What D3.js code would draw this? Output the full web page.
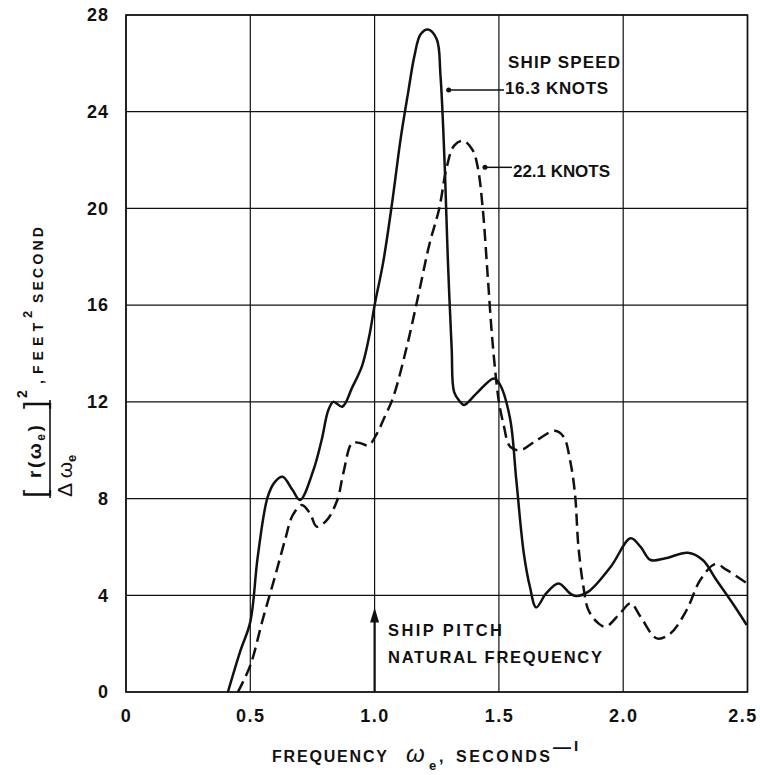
<!DOCTYPE html>
<html>
<head>
<meta charset="utf-8">
<script src="https://cdn.jsdelivr.net/npm/d3@7"></script>
<style>
  html, body { margin: 0; padding: 0; background: #fff; }
  svg { display: block; }
  text { font-family: "Liberation Sans", Arial, sans-serif; fill: #111; }
</style>
</head>
<body>
<svg id="chart" width="760" height="775"></svg>
<script>
// ---- data ----
const xTicks = [0, 0.5, 1.0, 1.5, 2.0, 2.5];
const xTickLabels = ["0", "0.5", "1.0", "1.5", "2.0", "2.5"];
const yTicks = [0, 4, 8, 12, 16, 20, 24, 28];
const yTickLabels = ["0", "4", "8", "12", "16", "20", "24", "28"];

// ship speed 16.3 knots (solid)
const freq163 = [0.41, 0.46, 0.50, 0.53, 0.57, 0.60, 0.63, 0.67, 0.70, 0.754, 0.787, 0.814, 0.834, 0.87, 0.91, 0.95, 0.98, 1.0, 1.035, 1.07, 1.105, 1.135, 1.16, 1.185, 1.215, 1.25, 1.265, 1.283, 1.295, 1.31, 1.32, 1.344, 1.36, 1.41, 1.48, 1.505, 1.545, 1.57, 1.60, 1.625, 1.65, 1.69, 1.74, 1.786, 1.81, 1.86, 1.95, 2.03, 2.07, 2.11, 2.17, 2.26, 2.32, 2.375, 2.44, 2.497];
const spec163 = [0, 1.7, 2.9, 5.6, 8.07, 8.7, 8.9, 8.35, 7.94, 9.18, 10.42, 11.66, 12.0, 11.8, 12.6, 13.5, 14.8, 16.0, 17.8, 20.2, 22.9, 24.8, 26.3, 27.2, 27.4, 27.0, 25.5, 21.5, 17.8, 14.2, 12.4, 12.0, 11.87, 12.35, 12.97, 12.7, 11.3, 8.77, 5.75, 4.34, 3.5, 4.08, 4.49, 4.08, 3.97, 4.15, 5.18, 6.36, 6.0, 5.46, 5.53, 5.76, 5.46, 4.63, 3.67, 2.77];

// ship speed 22.1 knots (dashed)
const freq221 = [0.45, 0.50, 0.55, 0.60, 0.64, 0.67, 0.707, 0.74, 0.767, 0.807, 0.85, 0.874, 0.91, 0.94, 0.975, 1.01, 1.035, 1.075, 1.13, 1.18, 1.22, 1.26, 1.29, 1.32, 1.357, 1.395, 1.415, 1.435, 1.455, 1.475, 1.50, 1.518, 1.545, 1.585, 1.65, 1.725, 1.76, 1.786, 1.806, 1.82, 1.84, 1.86, 1.90, 1.93, 1.987, 2.03, 2.07, 2.135, 2.19, 2.255, 2.31, 2.37, 2.416, 2.497];
const spec221 = [0, 1.1, 3.0, 4.8, 6.3, 7.3, 7.73, 7.39, 6.84, 7.1, 7.94, 9.04, 10.3, 10.3, 10.2, 10.7, 11.25, 12.2, 14.3, 16.6, 18.5, 20.0, 21.7, 22.6, 22.8, 22.4, 21.7, 20.0, 17.2, 14.4, 12.0, 11.1, 10.15, 10.0, 10.4, 10.8, 10.56, 9.6, 8.2, 6.0, 4.35, 3.39, 2.84, 2.7, 3.25, 3.67, 3.11, 2.22, 2.42, 3.39, 4.63, 5.29, 5.05, 4.5];

// annotation anchors (data units)
const leader163 = {x: 1.29, y: 24.9};
const leader221 = {x: 1.436, y: 21.7};
const pitchFreq = 1.0;
const pitchArrowTop = 3.5;

// ---- drawing ----
const svg = d3.select("#chart");
const x = d3.scaleLinear().domain([0, 2.5]).range([126, 747.5]);
const y = d3.scaleLinear().domain([0, 28]).range([692, 15]);

const grid = svg.append("g");
grid.selectAll("line.v").data(xTicks).join("line")
  .attr("x1", d => x(d)).attr("x2", d => x(d))
  .attr("y1", y(0)).attr("y2", y(28))
  .attr("stroke", "#111").attr("stroke-width", 1.2);
grid.selectAll("line.h").data(yTicks).join("line")
  .attr("y1", d => y(d)).attr("y2", d => y(d))
  .attr("x1", x(0)).attr("x2", x(2.5))
  .attr("stroke", "#111").attr("stroke-width", 1.2);
svg.append("rect").attr("x", x(0)).attr("y", y(28))
  .attr("width", x(2.5) - x(0)).attr("height", y(0) - y(28))
  .attr("fill", "none").attr("stroke", "#111").attr("stroke-width", 1.6);

// axes (labels only)
const yAxis = d3.axisLeft(y).tickValues(yTicks).tickSize(0).tickPadding(17)
  .tickFormat((d, i) => yTickLabels[i]);
const gy = svg.append("g").attr("transform", `translate(${x(0)},0)`).call(yAxis);
gy.select(".domain").remove();
gy.selectAll("text").attr("font-size", 18).attr("font-weight", "bold").attr("letter-spacing", 1)
  .attr("font-family", "Liberation Sans, Arial, sans-serif").attr("fill", "#111");

const xAxis = d3.axisBottom(x).tickValues(xTicks).tickSize(0).tickPadding(17)
  .tickFormat((d, i) => xTickLabels[i]);
const gx = svg.append("g").attr("transform", `translate(0,${y(0)})`).call(xAxis);
gx.select(".domain").remove();
gx.selectAll("text").attr("font-size", 18).attr("font-weight", "bold").attr("letter-spacing", 1.5)
  .attr("font-family", "Liberation Sans, Arial, sans-serif").attr("fill", "#111")
  .attr("dx", (d, i) => i === xTicks.length - 1 ? -5 : 0);

// curves
const line = d3.line().x(d => x(d[0])).y(d => y(d[1])).curve(d3.curveCatmullRom.alpha(0.5));
svg.append("path").datum(d3.zip(freq163, spec163))
  .attr("d", line).attr("fill", "none").attr("stroke", "#111").attr("stroke-width", 2.5)
  .attr("stroke-linejoin", "round");
svg.append("path").datum(d3.zip(freq221, spec221))
  .attr("d", line).attr("fill", "none").attr("stroke", "#111").attr("stroke-width", 2.5)
  .attr("stroke-dasharray", "12,6");

// leaders and labels
function lbl(txt, px, py, size, len) {
  const t = svg.append("text").attr("x", px).attr("y", py).attr("font-size", size)
    .attr("font-weight", "bold").text(txt);
  if (len) t.attr("textLength", len).attr("lengthAdjust", "spacing");
  return t;
}
svg.append("line").attr("x1", x(leader163.x)).attr("x2", 504)
  .attr("y1", y(leader163.y)).attr("y2", y(leader163.y)).attr("stroke", "#111").attr("stroke-width", 1.5);
svg.append("circle").attr("cx", x(leader163.x) + 2).attr("cy", y(leader163.y)).attr("r", 2.5).attr("fill", "#111");
svg.append("line").attr("x1", x(leader221.x)).attr("x2", 512)
  .attr("y1", y(leader221.y)).attr("y2", y(leader221.y)).attr("stroke", "#111").attr("stroke-width", 1.5);
svg.append("circle").attr("cx", x(leader221.x) + 2).attr("cy", y(leader221.y)).attr("r", 2.5).attr("fill", "#111");

lbl("SHIP SPEED", 508, 68, 17, 112);
lbl("16.3 KNOTS", 505, 94, 17, 103);
lbl("22.1 KNOTS", 513, 177, 17, 97);
lbl("SHIP PITCH", 388, 636, 16.5, 114);
lbl("NATURAL FREQUENCY", 388, 663, 16.5, 214);

// pitch arrow
const ax = x(pitchFreq);
svg.append("line").attr("x1", ax).attr("x2", ax).attr("y1", y(0)).attr("y2", y(pitchArrowTop) + 10)
  .attr("stroke", "#111").attr("stroke-width", 2.2);
svg.append("path")
  .attr("d", `M${ax},${y(pitchArrowTop)} L${ax - 4.5},${y(pitchArrowTop) + 15} L${ax + 4.5},${y(pitchArrowTop) + 15} Z`)
  .attr("fill", "#111");

// x axis title
lbl("FREQUENCY", 272, 762, 16, 115);
svg.append("text").attr("x", 406).attr("y", 762).attr("font-size", 24).attr("font-style", "italic")
  .attr("font-family", "DejaVu Serif, serif").text("ω");
lbl("e", 429, 770, 13);
lbl(",", 439, 762, 16);
lbl("SECONDS", 456, 762, 16, 94);
const sup = svg.append("text").attr("x", 553).attr("y", 753).attr("font-weight", "bold");
sup.append("tspan").text("—").attr("font-size", 18);
sup.append("tspan").text("I").attr("font-size", 15).attr("dx", 3).attr("dy", -2);

// y axis title (rotated): rotated coords (rx, ry) -> screen (ry, -rx)
const yg = svg.append("g").attr("transform", "rotate(-90)");
function ylbl(txt, rx, ry, size, weight, len) {
  const t = yg.append("text").attr("x", rx).attr("y", ry).attr("font-size", size)
    .attr("font-weight", weight).text(txt);
  if (len) t.attr("textLength", len).attr("lengthAdjust", "spacing");
  return t;
}
ylbl("[", -498, 45, 30, "normal");
const num = yg.append("text").attr("x", -478).attr("y", 41).attr("font-size", 19)
  .attr("font-weight", "bold").attr("letter-spacing", 2.5);
num.append("tspan").text("r(ω");
num.append("tspan").text("e").attr("font-size", 12).attr("dy", 4);
num.append("tspan").text(")").attr("dy", -4);
ylbl("]", -409, 45, 30, "normal");
ylbl("2", -398, 27, 14, "bold");
ylbl(",", -384, 43, 14, "bold");
ylbl("FEET", -374, 43, 14, "bold", 51);
ylbl("2", -318, 32, 13, "bold");
ylbl("SECOND", -303, 43, 14, "bold", 76);

yg.append("line").attr("x1", -498).attr("x2", -400).attr("y1", 50).attr("y2", 50)
  .attr("stroke", "#111").attr("stroke-width", 1.6);
const yd = yg.append("text").attr("x", -497).attr("y", 72).attr("font-size", 21);
yd.append("tspan").text("Δ ω");
yd.append("tspan").text("e").attr("font-size", 13).attr("font-weight", "bold").attr("dy", 4);
</script>
</body>
</html>
